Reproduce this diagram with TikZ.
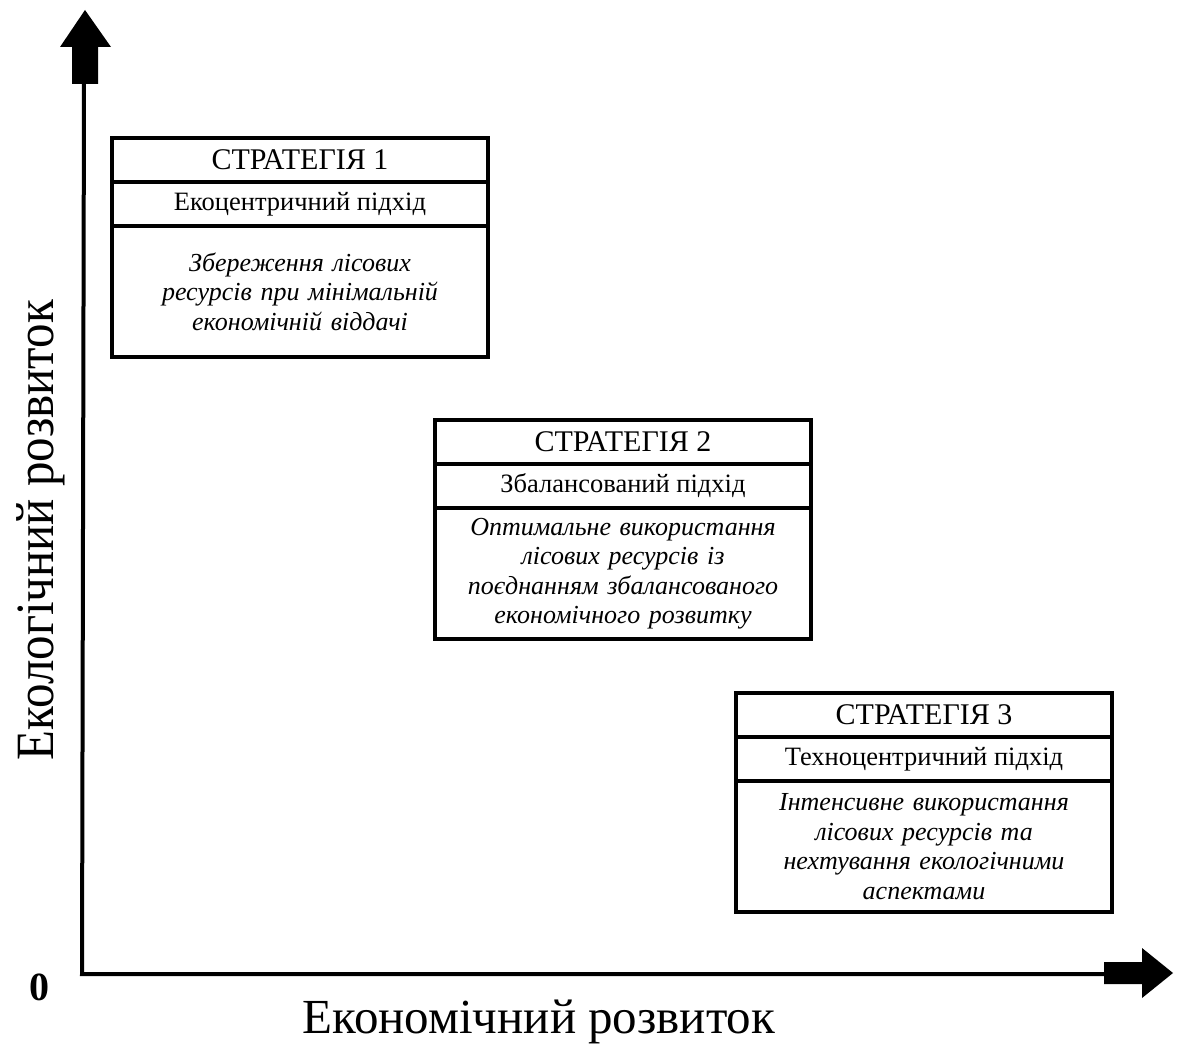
\documentclass[tikz,border=0pt]{standalone}
\usepackage{fontspec}
\setmainfont{Liberation Serif}
\begin{document}
\begin{tikzpicture}[x=1pt,y=-1pt,
  sect/.style={draw, line width=3.5pt, minimum width=376pt, inner sep=0pt, outer sep=0pt, anchor=north west, align=center},
  titlebox/.style={sect, minimum height=44pt, font=\fontsize{30}{34}\selectfont},
  subbox/.style={sect, minimum height=44pt, font=\fontsize{26.5}{30}\selectfont},
  bodybox/.style={sect, minimum height=131pt, text width=376pt, font=\fontsize{26}{29.5}\selectfont\itshape},
  axisline/.style={line width=4pt},
  blockarrow/.style={fill=black, draw=none},
  axislabel/.style={font=\fontsize{49}{54}\selectfont, anchor=base}
]
\useasboundingbox (0,0) rectangle (1177,1046);

% axes
\coordinate (O) at (82,974);
\coordinate (Ytop) at (84,83);
\coordinate (Xend) at (1105,974);
\draw[axisline] (Ytop) -- (O) -- (Xend);
\fill[blockarrow] (72,84) -- (72,47) -- (60,47) -- (85,10) -- (111,47) -- (98,47) -- (98,84) -- cycle;
\fill[blockarrow] (1104,962) -- (1142,962) -- (1142,948) -- (1173,973) -- (1142,998) -- (1142,984) -- (1104,984) -- cycle;

\node[font=\fontsize{40}{44}\selectfont\bfseries, anchor=base] (zero) at (39,1000) {0};
\node[axislabel] (xlab) at (539,1033) {Економічний розвиток};
\node[axislabel, rotate=90] (ylab) at (53,530) {\scalebox{1}[1.1]{Екологічний розвиток}};

% strategy 1
\node[titlebox] (s1t) at (112,138) {СТРАТЕГІЯ 1};
\node[subbox] (s1s) at (s1t.south west) {Екоцентричний підхід};
\node[bodybox] (s1b) at (s1s.south west) {Збереження лісових\\ресурсів при мінімальній\\економічній віддачі};

% strategy 2
\node[titlebox] (s2t) at (435,420) {СТРАТЕГІЯ 2};
\node[subbox] (s2s) at (s2t.south west) {Збалансований підхід};
\node[bodybox] (s2b) at (s2s.south west) {Оптимальне використання\\лісових ресурсів із\\поєднанням збалансованого\\економічного розвитку};

% strategy 3
\node[titlebox] (s3t) at (736,693) {СТРАТЕГІЯ 3};
\node[subbox] (s3s) at (s3t.south west) {Техноцентричний підхід};
\node[bodybox] (s3b) at (s3s.south west) {Інтенсивне використання\\лісових ресурсів та\\нехтування екологічними\\аспектами};
\end{tikzpicture}
\end{document}
